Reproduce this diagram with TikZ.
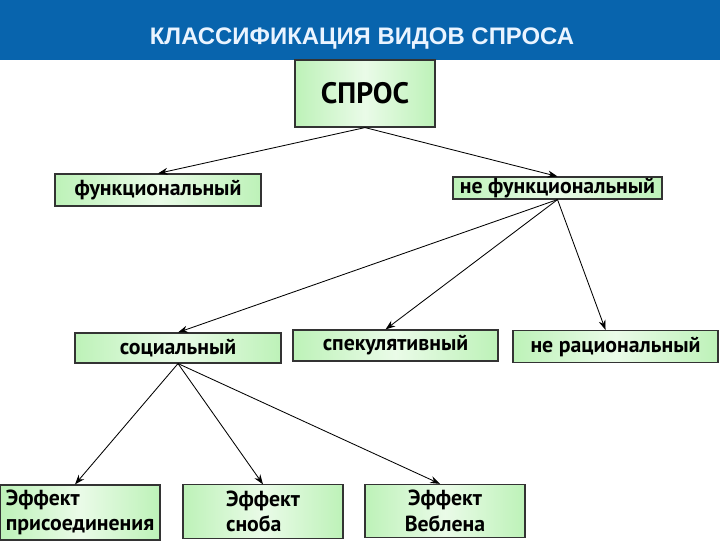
\documentclass[tikz,border=0pt]{standalone}
\usepackage{fontspec}
\setmainfont{PT Sans}
\newfontfamily\headfont{Liberation Sans}
\usepackage{tikz}
\usetikzlibrary{arrows.meta, positioning, calc}

\definecolor{headblue}{HTML}{0864AD}
\definecolor{headtext}{HTML}{EAF4FF}
\definecolor{boxgreen}{HTML}{BDF2B8}
\definecolor{boxlight}{HTML}{EAFBE8}
\definecolor{boxline}{HTML}{333333}

\begin{document}
\begin{tikzpicture}[
        x=0.025cm, y=-0.025cm,
        box/.style={draw=boxline, line width=0.8pt, left color=boxgreen, right color=boxgreen,
                    middle color=boxlight, align=center, font=\fontsize{15.5}{18}\selectfont\bfseries,
                    inner sep=1pt},
        effbox/.style={box, minimum width=4cm, minimum height=1.33cm, align=left},
        ->, >={Stealth[length=7pt, width=5pt]}, line width=0.6pt
    ]
\useasboundingbox (0,0) rectangle (720,540);

% Header bar
\fill[headblue] (0,0) rectangle (720,60);
\node[text=headtext, font=\headfont\fontsize{17}{20}\selectfont\bfseries] (title) at (362,39)
    {КЛАССИФИКАЦИЯ ВИДОВ СПРОСА};

% Top level
\node[box, minimum width=3.5cm, minimum height=1.675cm, font=\fontsize{21}{24}\selectfont\bfseries]
    (spros) at (365,93.5) {СПРОС};

% Second level
\node[box, minimum width=5.15cm, minimum height=0.8cm] (funk) at (158,190) {функциональный};
\node[box, minimum width=5.225cm, minimum height=0.55cm, inner sep=0pt] (nefunk) at (557.5,188)
    {не функциональный};

% Third level
\node[box, minimum width=5.15cm, minimum height=0.75cm] (soc) at (178,348) {социальный};
\node[box, minimum width=5.125cm, minimum height=0.775cm] (spek) at (395.5,345.5) {спекулятивный};
\node[box, minimum width=5.125cm, minimum height=0.8cm] (nerac) at (615.5,346.5) {не рациональный};

% Effects of social demand
\node[effbox, minimum height=1.375cm, inner sep=3pt] (prisoed) at (80,512.5) {Эффект\\присоединения};
\node[effbox] (snob) at (263,511.5) {Эффект\\сноба};
\node[effbox, align=center] (veblen) at (445,511) {Эффект\\Веблена};

% Arrows from demand
\draw (spros.south) -- (funk.north);
\draw (spros.south) -- (nefunk.north);

% Arrows from non-functional demand
\draw (nefunk.south) -- (soc.north);
\draw (nefunk.south) -- ($(spek.north)+(-10,0)$);
\draw (nefunk.south) -- ($(nerac.north)+(-10,0)$);

% Arrows from social demand
\draw (soc.south) -- ($(prisoed.north)+(-5,0)$);
\draw (soc.south) -- (snob.north);
\draw (soc.south) -- ($(veblen.north)+(-5,0)$);
\end{tikzpicture}
\end{document}
